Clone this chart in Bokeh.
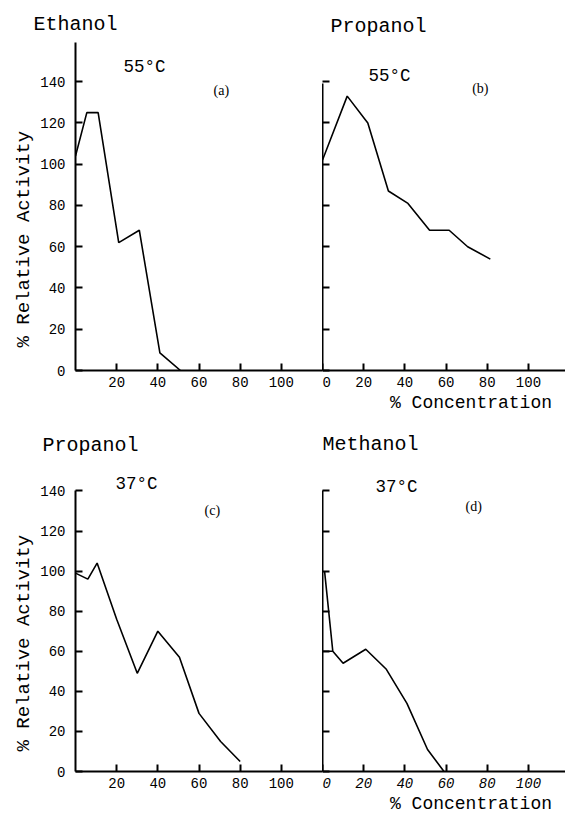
from bokeh.plotting import figure
from bokeh.models import Label, FixedTicker, Range1d, Title
from bokeh.layouts import column, row
from bokeh.embed import file_html
from bokeh.resources import INLINE

# ---- data ----
ethanol55_x = [0, 5.5, 11, 21, 31, 41, 51]
ethanol55_y = [104, 125, 125, 62, 68, 8.5, 0]

propanol55_x = [0, 12, 22, 32, 41.5, 52, 61.5, 70.5, 81.5]
propanol55_y = [102, 133, 120, 87, 81, 68, 68, 60, 54]

propanol37_x = [0, 6, 10.5, 20, 30, 40, 50.5, 60, 70.5, 80]
propanol37_y = [99, 96, 104, 76, 49, 70, 57, 29, 15, 5]

methanol37_x = [1, 5, 10, 21, 31, 41, 51, 59]
methanol37_y = [100, 60, 54, 61, 51, 34, 11, 0]
methanol37_flat_x = [0, 5]
methanol37_flat_y = [60, 60]

y_ticks = [0, 20, 40, 60, 80, 100, 120, 140]
x_ticks_left = [20, 40, 60, 80, 100]
x_ticks_right = [0, 20, 40, 60, 80, 100]

MONO = "Liberation Mono"
SERIF = "Liberation Serif"


def base_fig(width, height, x_end, y_end, left, top, bottom):
    p = figure(width=width, height=height,
               x_range=Range1d(0, x_end), y_range=Range1d(0, y_end),
               output_backend="svg", toolbar_location=None,
               min_border_left=left, min_border_right=0,
               min_border_top=top, min_border_bottom=bottom)
    p.grid.visible = False
    p.outline_line_color = None
    p.background_fill_color = "white"
    p.border_fill_color = "white"
    for ax in (p.xaxis[0], p.yaxis[0]):
        ax.axis_line_width = 2
        ax.axis_line_color = "black"
        ax.major_tick_line_width = 2
        ax.major_tick_line_color = "black"
        ax.major_tick_in = 7
        ax.major_tick_out = 0
        ax.minor_tick_in = 0
        ax.minor_tick_out = 0
        ax.major_label_text_font = MONO
        ax.major_label_text_font_size = "14px"
        ax.major_label_text_color = "black"
    return p


def add_title(p, text, offset, standoff):
    p.add_layout(Title(text=text, align="left", offset=offset, standoff=standoff,
                       text_font=MONO, text_font_size="20px",
                       text_font_style="normal", text_color="black"), "above")


def left_fig(height, y_end, top, bottom, y_bound, title, t_off, t_stand, ylab_off):
    p = base_fig(322, height, 120, y_end, 75, top, bottom)
    p.xaxis.ticker = FixedTicker(ticks=x_ticks_left)
    p.yaxis.ticker = FixedTicker(ticks=y_ticks)
    p.yaxis.bounds = (0, y_bound)
    p.yaxis.major_label_standoff = 10
    p.xaxis.major_label_standoff = 6
    add_title(p, title, t_off, t_stand)
    p.add_layout(Title(text="% Relative Activity", align="left", offset=ylab_off,
                       standoff=6, text_font=MONO, text_font_size="19px",
                       text_font_style="normal", text_color="black"), "left")
    return p


def right_fig(height, y_end, top, bottom, y_bound, title, t_off, t_stand, italic=False):
    p = base_fig(243, height, 118, y_end, 0, top, bottom)
    p.xaxis.ticker = FixedTicker(ticks=x_ticks_right)
    p.yaxis.ticker = FixedTicker(ticks=y_ticks)
    p.yaxis.bounds = (0, y_bound)
    p.yaxis.major_label_overrides = {t: "" for t in y_ticks}
    p.yaxis.major_label_standoff = 0
    p.xaxis.major_label_standoff = 6
    # leading no-break spaces push the centred label to the right, as in the reference
    p.xaxis.axis_label = "\u00a0" * 5 + "% Concentration"
    p.xaxis.axis_label_align = "center"
    p.xaxis.axis_label_standoff = 3
    p.xaxis.axis_label_text_font = MONO
    p.xaxis.axis_label_text_font_size = "18px"
    p.xaxis.axis_label_text_font_style = "normal"
    p.xaxis.axis_label_text_color = "black"
    if italic:
        p.xaxis.major_label_text_font_style = "italic"
    add_title(p, title, t_off, t_stand)
    return p


def lab(p, x, y, text, size, font=MONO):
    p.add_layout(Label(x=x, y=y, text=text, text_font=font,
                       text_font_size=size, text_align="left",
                       text_baseline="middle", text_color="black"))


# ---- top row (canvas y 0..416, frame 42..370) ----
pa = left_fig(416, 159, 42, 46, 159, "Ethanol", -42, 13, 23)
pa.line(ethanol55_x, ethanol55_y, line_color="black", line_width=1.6)
lab(pa, 23.3, 147.0, "55°C", "17.5px")
lab(pa, 67.1, 135.7, "(a)", "14px", font=SERIF)

pb = right_fig(416, 159, 42, 46, 139, "Propanol", 8, 9)
pb.line(propanol55_x, propanol55_y, line_color="black", line_width=1.6)
lab(pb, 22.3, 143.0, "55°C", "17.5px")
lab(pb, 72.7, 136.5, "(b)", "14px", font=SERIF)

# ---- bottom row (canvas y 416..816, frame 468..773) ----
pc = left_fig(400, 150.2, 52, 43, 140, "Propanol", -33, 28, 20)
pc.line(propanol37_x, propanol37_y, line_color="black", line_width=1.6)
lab(pc, 19.4, 143.5, "37°C", "17.5px")
lab(pc, 62.7, 130.4, "(c)", "14px", font=SERIF)

pd = right_fig(400, 150.2, 52, 43, 140, "Methanol", 0, 29, italic=True)
pd.line(methanol37_x, methanol37_y, line_color="black", line_width=1.6)
pd.line(methanol37_flat_x, methanol37_flat_y, line_color="black", line_width=1.6)
lab(pd, 25.7, 141.9, "37°C", "17.5px")
lab(pd, 69.5, 132.0, "(d)", "14px", font=SERIF)

layout = column(row(pa, pb), row(pc, pd))

open("out.html", "w").write(file_html(layout, INLINE))
